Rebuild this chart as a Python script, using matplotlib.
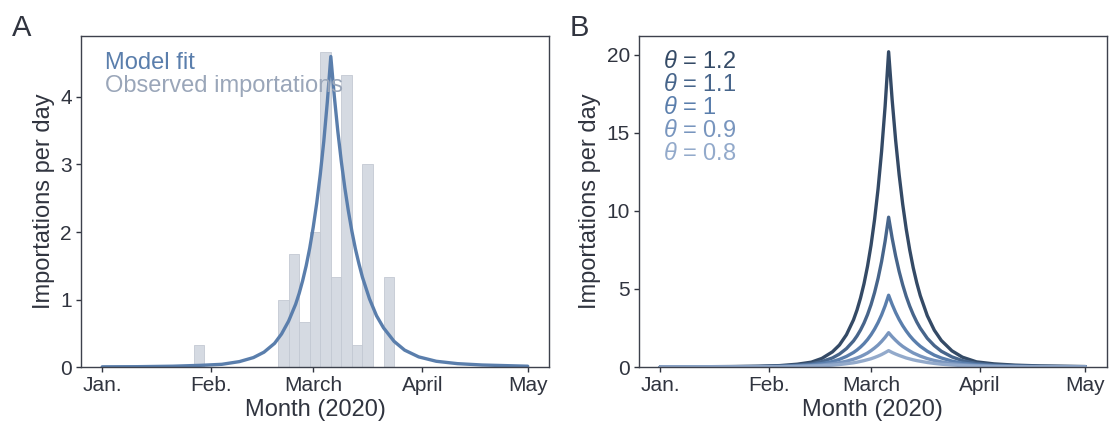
"""Imported cases per day: model fit vs observed (A) and sensitivity to theta (B)."""

import matplotlib.pyplot as plt
import numpy as np

# observed importations, 3-day bins (left edge date, mean per day)
bin_starts = ["2020-01-27", "2020-02-20", "2020-02-23", "2020-02-26", "2020-02-29",
              "2020-03-03", "2020-03-06", "2020-03-09", "2020-03-12", "2020-03-15",
              "2020-03-21"]
observed = [0.33, 1.0, 1.67, 0.67, 2.0, 4.67, 1.33, 4.33, 0.33, 3.0, 1.33]

# model curves (days since 1 Jan 2020)
model_days = [0, 10, 20, 28, 34, 39, 43, 46, 49, 51, 53, 55, 56, 57, 58, 59, 60, 61,
              62, 63, 64, 65, 66, 67, 68, 69, 70, 71, 72, 73, 74, 76, 78, 80, 83, 86,
              90, 95, 101, 108, 121]
theta_12 = [0.01, 0.015, 0.03, 0.05, 0.09, 0.18, 0.31, 0.55, 0.97, 1.41, 2.07, 3.02, 3.65,
            4.42, 5.34, 6.46, 7.81, 9.45, 11.42, 13.82, 16.70, 20.2, 17.13, 14.52, 12.31,
            10.44, 8.85, 7.51, 6.36, 5.40, 4.58, 3.29, 2.36, 1.70, 1.04, 0.63, 0.33, 0.20,
            0.12, 0.07, 0.03]
theta_11 = [0.005, 0.01, 0.02, 0.035, 0.06, 0.12, 0.20, 0.35, 0.58, 0.83, 1.18, 1.67, 1.99,
            2.37, 2.82, 3.36, 4.00, 4.77, 5.68, 6.76, 8.06, 9.6, 8.26, 7.11, 6.12, 5.27,
            4.53, 3.90, 3.36, 2.89, 2.49, 1.84, 1.37, 1.01, 0.65, 0.41, 0.23, 0.13, 0.08,
            0.04, 0.02]
theta_10 = [0.003, 0.005, 0.012, 0.025, 0.04, 0.08, 0.14, 0.22, 0.35, 0.49, 0.68, 0.93, 1.09,
            1.28, 1.50, 1.76, 2.07, 2.43, 2.85, 3.34, 3.92, 4.6, 4.01, 3.49, 3.04, 2.65,
            2.31, 2.01, 1.75, 1.53, 1.33, 1.01, 0.76, 0.58, 0.38, 0.25, 0.15, 0.085, 0.05,
            0.03, 0.012]
theta_09 = [0.002, 0.004, 0.008, 0.015, 0.025, 0.05, 0.085, 0.13, 0.21, 0.28, 0.37, 0.50, 0.58,
            0.67, 0.78, 0.90, 1.05, 1.22, 1.41, 1.64, 1.90, 2.2, 1.94, 1.71, 1.50, 1.32,
            1.17, 1.03, 0.90, 0.80, 0.70, 0.54, 0.42, 0.33, 0.22, 0.15, 0.092, 0.05, 0.03,
            0.015, 0.006]
theta_08 = [0.002, 0.003, 0.005, 0.009, 0.016, 0.031, 0.054, 0.081, 0.12, 0.16, 0.21, 0.27,
            0.31, 0.36, 0.41, 0.47, 0.53, 0.61, 0.70, 0.80, 0.92, 1.05, 0.93, 0.83, 0.74,
            0.66, 0.58, 0.52, 0.46, 0.41, 0.37, 0.29, 0.23, 0.18, 0.13, 0.09, 0.056, 0.031,
            0.018, 0.008, 0.003]

theta_labels = ["1.2", "1.1", "1", "0.9", "0.8"]
theta_series = [theta_12, theta_11, theta_10, theta_09, theta_08]
theta_colors = ["#344a66", "#47658b", "#5a7eac", "#7895be", "#93aacb"]

month_ticks = ["2020-01-01", "2020-02-01", "2020-03-01", "2020-04-01", "2020-05-01"]
month_labels = ["Jan.", "Feb.", "March", "April", "May"]

TEXT = "#30343f"
FIT = "#5a7eac"
BARS = "#d5dae2"
OBS_TEXT = "#9aa6b9"

plt.rcParams["font.family"] = ["Liberation Sans", "DejaVu Sans"]
plt.rcParams["mathtext.fontset"] = "custom"
plt.rcParams["mathtext.it"] = "Liberation Sans:italic"
plt.rcParams["mathtext.rm"] = "Liberation Sans"

dates = np.datetime64("2020-01-01") + np.array(model_days).astype("timedelta64[D]")
bar_x = np.array(bin_starts, dtype="datetime64[D]")
tick_x = np.array(month_ticks, dtype="datetime64[D]")

fig = plt.figure(figsize=(11.12, 4.24), dpi=100)
ax_a = fig.add_axes([0.0728, 0.1344, 0.4209, 0.7807])
ax_b = fig.add_axes([0.5746, 0.1344, 0.4206, 0.7807])


def style_axis(ax):
    ax.set_xticks(tick_x)
    ax.set_xticklabels(month_labels)
    ax.set_xlabel("Month (2020)", fontsize=17, color=TEXT, labelpad=3)
    ax.set_ylabel("Importations per day", fontsize=17, color=TEXT)
    ax.tick_params(labelsize=15, colors=TEXT, length=3.5, width=1, pad=3)
    for sp in ax.spines.values():
        sp.set_color("#3d414c")
        sp.set_linewidth(1.0)
    ax.set_ylim(bottom=0)


# panel A
ax_a.bar(bar_x, observed, width=3, align="edge", color=BARS,
         edgecolor="#c3c9d3", linewidth=0.6)
ax_a.plot(dates, theta_10, color=FIT, lw=2.4, solid_capstyle="round")
style_axis(ax_a)
ax_a.set_yticks([0, 1, 2, 3, 4])
ax_a.text(0.051, 0.900, "Model fit", transform=ax_a.transAxes, fontsize=17,
          color=FIT, va="baseline")
ax_a.text(0.051, 0.830, "Observed importations", transform=ax_a.transAxes,
          fontsize=17, color=OBS_TEXT, va="baseline")

# panel B
for series, color in zip(theta_series, theta_colors):
    ax_b.plot(dates, series, color=color, lw=2.4, solid_capstyle="round")
style_axis(ax_b)
ax_b.set_yticks([0, 5, 10, 15, 20])
for i, (lab, color) in enumerate(zip(theta_labels, theta_colors)):
    ax_b.text(0.052, 0.9024 - i * 0.0693, r"$\theta$ = " + lab,
              transform=ax_b.transAxes, fontsize=17, color=color, va="baseline")

fig.text(0.0105, 0.915, "A", fontsize=21, color=TEXT)
fig.text(0.5126, 0.915, "B", fontsize=21, color=TEXT)

fig.savefig("out.png", dpi=100, facecolor="white")
plt.close(fig)
